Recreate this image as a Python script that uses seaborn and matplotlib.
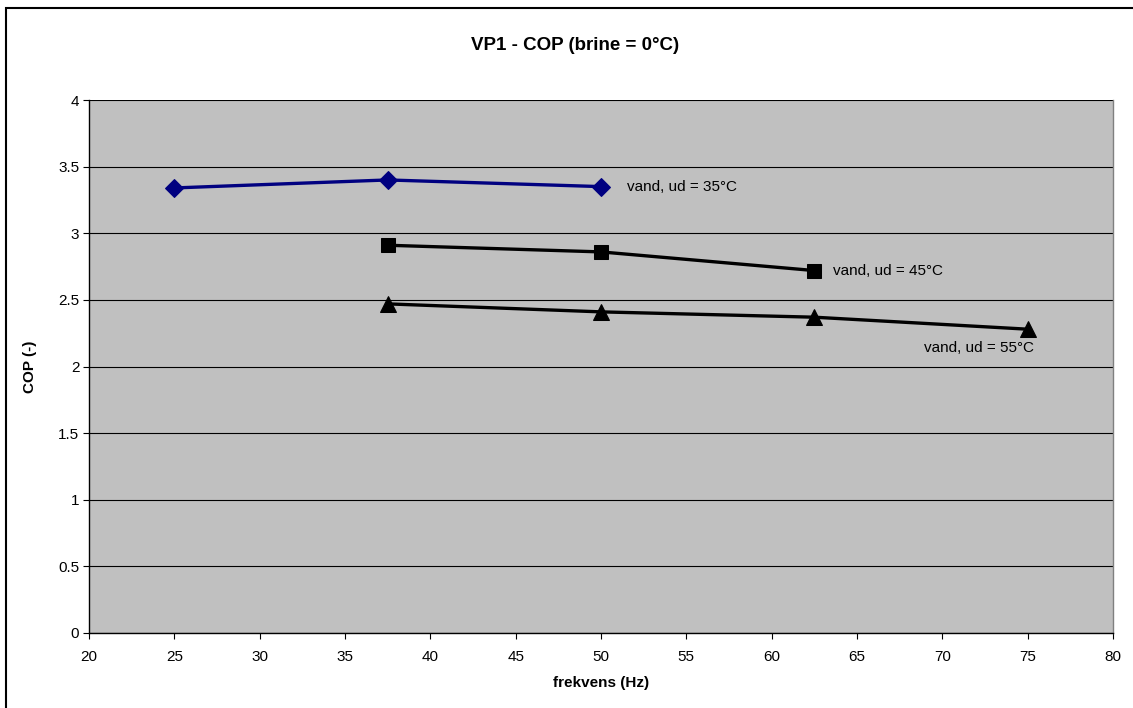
import pandas as pd
import seaborn as sns
import matplotlib.pyplot as plt
from matplotlib.patches import Rectangle

# data
freq_35 = [25, 37.5, 50]
cop_35 = [3.34, 3.40, 3.35]
freq_45 = [37.5, 50, 62.5]
cop_45 = [2.91, 2.86, 2.72]
freq_55 = [37.5, 50, 62.5, 75]
cop_55 = [2.47, 2.41, 2.37, 2.28]
labels = ["vand, ud = 35°C", "vand, ud = 45°C", "vand, ud = 55°C"]

df = pd.concat([
    pd.DataFrame({"freq": freq_35, "cop": cop_35, "serie": labels[0]}),
    pd.DataFrame({"freq": freq_45, "cop": cop_45, "serie": labels[1]}),
    pd.DataFrame({"freq": freq_55, "cop": cop_55, "serie": labels[2]}),
])

sns.set_style("white")
plt.rcParams['font.family'] = ['Liberation Sans', 'DejaVu Sans']
plt.rcParams['text.color'] = "black"
plt.rcParams['axes.labelcolor'] = "black"
plt.rcParams['xtick.color'] = "black"
plt.rcParams['ytick.color'] = "black"

fig = plt.figure(figsize=(11.33, 7.08), dpi=100)
ax = fig.add_axes([89 / 1133, 1 - 633 / 708, (1113 - 89) / 1133, (633 - 100) / 708])
ax.set_facecolor("#C0C0C0")

colors = {labels[0]: "#000080", labels[1]: "black", labels[2]: "black"}
marks = {labels[0]: "D", labels[1]: "s", labels[2]: "^"}
sizes = {labels[0]: 9, labels[1]: 10, labels[2]: 11}

for lab in labels:
    sub = df[df["serie"] == lab]
    sns.lineplot(data=sub, x="freq", y="cop", color=colors[lab], marker=marks[lab],
                 markersize=sizes[lab], markeredgecolor=colors[lab], linewidth=2.4,
                 ax=ax, legend=False, zorder=3)

ax.set_xlim(20, 80)
ax.set_ylim(0, 4)
ax.set_xticks(range(20, 81, 5))
ax.set_yticks([0, 0.5, 1, 1.5, 2, 2.5, 3, 3.5, 4])
ax.set_yticklabels(["0", "0.5", "1", "1.5", "2", "2.5", "3", "3.5", "4"])
ax.grid(axis="y", color="black", linewidth=0.8)
ax.grid(axis="x", visible=False)
ax.set_axisbelow(True)
ax.tick_params(axis="both", direction="out", length=4, width=0.8, color="black",
               labelsize=11, pad=3, bottom=True, left=True)
ax.tick_params(axis="x", pad=8)
for side in ["left", "bottom"]:
    ax.spines[side].set_color("black")
    ax.spines[side].set_linewidth(1)
ax.spines["top"].set_visible(False)
ax.spines["right"].set_color("#808080")
ax.spines["right"].set_linewidth(1)

ax.set_xlabel("frekvens (Hz)", fontsize=11, fontweight="bold", labelpad=9)
ax.set_ylabel("COP (-)", fontsize=11, fontweight="bold", labelpad=15)

# series labels
ax.text(51.5, 3.35, labels[0], fontsize=11, va="center", ha="left")
ax.text(63.6, 2.72, labels[1], fontsize=11, va="center", ha="left")
ax.text(75.4, 2.14, labels[2], fontsize=11, va="center", ha="right")

fig.text(575 / 1133, 1 - 45 / 708, "VP1 - COP (brine = 0°C)", fontsize=13.5,
         fontweight="bold", ha="center", va="center")

# outer chart border (right and bottom edges fall outside the image)
fig.patches.append(Rectangle((6 / 1133, -0.1), 1.2, 1 - 8 / 708 + 0.1,
                             transform=fig.transFigure, fill=False,
                             edgecolor="black", linewidth=1.5))

fig.savefig("out.png", dpi=100)
